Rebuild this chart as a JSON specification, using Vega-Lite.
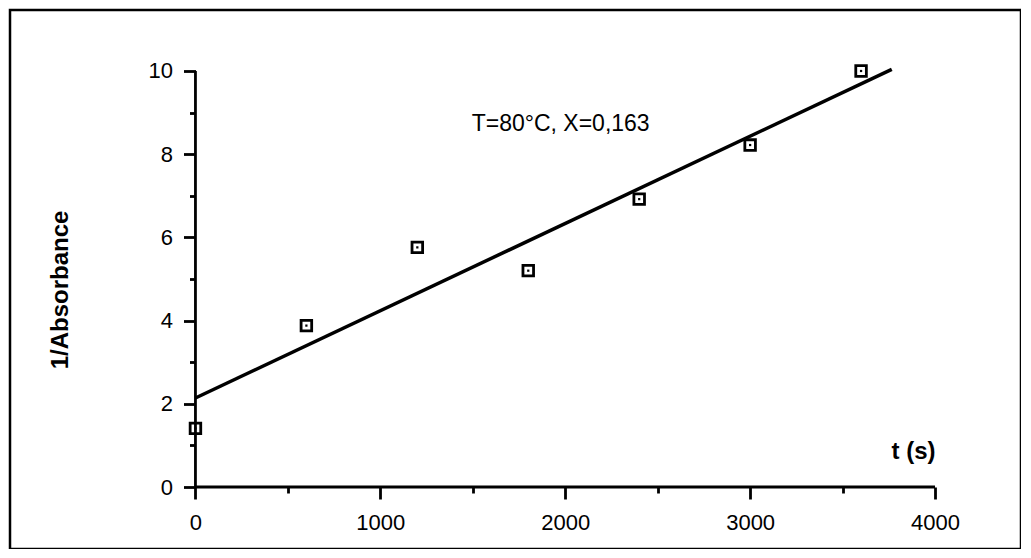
{
  "$schema": "https://vega.github.io/schema/vega-lite/v6.json",
  "width": 1011,
  "height": 539,
  "autosize": {"type": "none"},
  "padding": {"left": 10, "top": 10, "right": 0, "bottom": 0},
  "background": "white",
  "config": {
    "view": {"stroke": "black", "strokeWidth": 2.5},
    "font": "Liberation Sans"
  },
  "datasets": {
    "points": [
      {"t": 0, "inv_abs": 1.41},
      {"t": 600, "inv_abs": 3.88},
      {"t": 1200, "inv_abs": 5.76},
      {"t": 1800, "inv_abs": 5.2},
      {"t": 2400, "inv_abs": 6.92},
      {"t": 3000, "inv_abs": 8.22},
      {"t": 3600, "inv_abs": 10.0}
    ],
    "fit": [
      {"t": 0, "inv_abs": 2.14},
      {"t": 3766, "inv_abs": 10.04}
    ]
  },
  "layer": [
    {
      "data": {"name": "points"},
      "mark": {"type": "point", "shape": "square", "filled": false, "size": 112, "stroke": "black", "strokeWidth": 2.8, "opacity": 1},
      "encoding": {
        "x": {
          "field": "t", "type": "quantitative",
          "scale": {"domain": [-1003, 4465], "nice": false, "zero": false},
          "axis": {
            "orient": "bottom", "offset": -62,
            "values": [0, 500, 1000, 1500, 2000, 2500, 3000, 3500, 4000],
            "format": "d",
            "labelExpr": "datum.value % 1000 === 0 ? datum.label : ''",
            "domain": false, "grid": false,
            "tickColor": "black", "tickWidth": 2.8,
            "tickSize": {"condition": {"test": "datum.value % 1000 === 0", "value": 12}, "value": 6},
            "labelFontSize": 22, "labelColor": "black", "labelPadding": 13,
            "labelFlush": false, "labelOverlap": false,
            "title": "t (s)", "titleFontSize": 24, "titleFontWeight": "bold", "titleColor": "black",
            "titleAlign": "right", "titleBaseline": "alphabetic", "titleX": 925, "titleY": -29
          }
        },
        "y": {
          "field": "inv_abs", "type": "quantitative",
          "scale": {"domain": [-1.49, 11.466], "nice": false, "zero": false},
          "axis": {
            "orient": "left", "offset": -185.5,
            "values": [0, 1, 2, 3, 4, 5, 6, 7, 8, 9, 10],
            "labelExpr": "datum.value % 2 === 0 ? datum.label : ''",
            "domain": false, "grid": false,
            "tickColor": "black", "tickWidth": 2.8,
            "tickSize": {"condition": {"test": "datum.value % 2 === 0", "value": 12}, "value": 6},
            "labelFontSize": 22, "labelColor": "black", "labelPadding": 11,
            "labelFlush": false, "labelOverlap": false,
            "title": "1/Absorbance", "titleFontSize": 24, "titleFontWeight": "bold", "titleColor": "black",
            "titleAngle": -90, "titleAlign": "center", "titleBaseline": "alphabetic",
            "titleX": -128, "titleY": 279.5
          }
        }
      }
    },
    {
      "data": {"name": "points"},
      "mark": {"type": "point", "shape": "square", "filled": true, "size": 5, "color": "black", "opacity": 1},
      "encoding": {
        "x": {"field": "t", "type": "quantitative"},
        "y": {"field": "inv_abs", "type": "quantitative"}
      }
    },
    {
      "data": {"name": "fit"},
      "mark": {"type": "line", "color": "black", "strokeWidth": 3.5},
      "encoding": {
        "x": {"field": "t", "type": "quantitative"},
        "y": {"field": "inv_abs", "type": "quantitative"}
      }
    },
    {
      "data": {"values": [{}]},
      "mark": {"type": "rule", "color": "black", "strokeWidth": 2.8},
      "encoding": {
        "x": {"datum": 0}, "x2": {"datum": 4000},
        "y": {"datum": 0}
      }
    },
    {
      "data": {"values": [{}]},
      "mark": {"type": "rule", "color": "black", "strokeWidth": 2.8},
      "encoding": {
        "x": {"datum": 0},
        "y": {"datum": 0}, "y2": {"datum": 10}
      }
    },
    {
      "data": {"values": [{"label": "T=80°C, X=0,163"}]},
      "mark": {"type": "text", "align": "left", "baseline": "alphabetic", "fontSize": 23, "color": "black"},
      "encoding": {
        "x": {"datum": 1494},
        "y": {"datum": 8.56},
        "text": {"field": "label"}
      }
    }
  ]
}
